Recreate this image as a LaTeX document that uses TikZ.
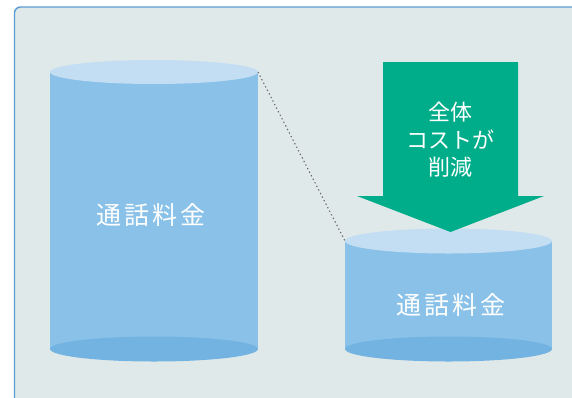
\documentclass[tikz,border=0pt]{standalone}
\usepackage{fontspec}
\newfontfamily\jp{Noto Sans CJK JP}
\newfontfamily\jpsp[LetterSpace=12]{Noto Sans CJK JP}
\definecolor{panelfill}{HTML}{E0E9E9}
\definecolor{panelline}{HTML}{5B9BD5}
\definecolor{cyltop}{HTML}{C3DEF3}
\definecolor{cylbody}{HTML}{89C1E8}
\definecolor{cylbot}{HTML}{72B3E1}
\definecolor{arrowgreen}{HTML}{00AD8A}
\tikzset{
  cyllabel/.style={text=white, font=\jpsp\fontsize{25}{28}\selectfont, inner sep=0pt},
  arrowlabel/.style={text=white, font=\jp\fontsize{22}{27.5}\selectfont, align=center, inner sep=0pt},
  guide/.style={draw=black!60, line width=1.1pt, dash pattern=on 1.3pt off 2.7pt},
}
\begin{document}
\begin{tikzpicture}[x=1pt,y=-1pt]
\useasboundingbox (0,0) rectangle (572,397);
% panel
\draw[panelline, line width=1.4pt, fill=panelfill, rounded corners=6pt] (14.5,7) rectangle (620,440);
% left cylinder
\fill[cylbody] (50,72) rectangle (258,349);
\fill[cylbot] (154,349) ellipse [x radius=104, y radius=12.5];
\fill[cyltop] (154,72) ellipse [x radius=104, y radius=12];
\coordinate (ltopr) at (258,72);
\node[cyllabel] (lcost) at (151,214.5) {通話料金};
% right cylinder
\fill[cylbody] (345,241) rectangle (552,349);
\fill[cylbot] (448.5,349) ellipse [x radius=103.5, y radius=12.5];
\fill[cyltop] (448.5,241) ellipse [x radius=103.5, y radius=12.5];
\coordinate (rtopl) at (345,241);
\node[cyllabel] (rcost) at (451,304.5) {通話料金};
% dotted guide
\draw[guide] (ltopr) -- (rtopl);
% arrow
\fill[arrowgreen] (383,62) -- (518,62) -- (518,196) -- (544,196) -- (450.5,232) -- (357,196) -- (383,196) -- cycle;
\node[arrowlabel] (cut) at (450.5,140) {全体\\コストが\\削減};
\end{tikzpicture}
\end{document}
